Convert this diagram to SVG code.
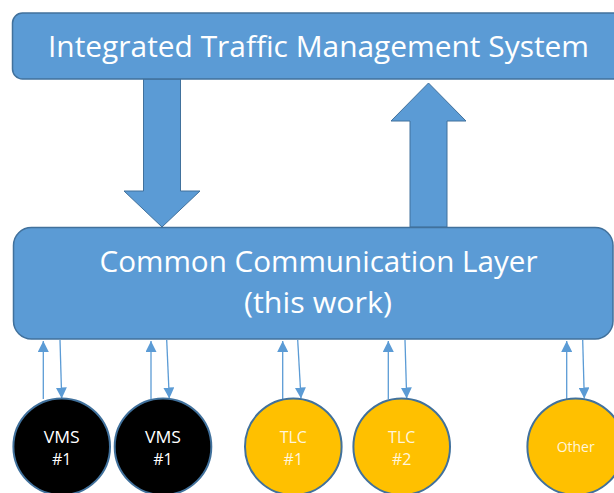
<svg xmlns="http://www.w3.org/2000/svg" width="614" height="493" viewBox="0 0 614 493">
<defs>
<style>
.box{fill:#5B9BD5;stroke:#41719C;stroke-width:1.5}
.big{fill:#5B9BD5;stroke:#41719C;stroke-width:1}
.txt{font-family:"Open Sans","Liberation Sans",sans-serif;fill:#ffffff;text-anchor:middle}
.vms{fill:#000000;stroke:#41719C;stroke-width:2}
.tlc{fill:#FFC000;stroke:#41719C;stroke-width:2}
.lbl{font-family:"Open Sans","Liberation Sans",sans-serif;fill:#ffffff;text-anchor:middle;font-size:16px}
.tl{fill:#FFF6DC}
.link{stroke:#5B9BD5;stroke-width:1.3;fill:none;marker-end:url(#ah)}
</style>
<marker id="ah" markerUnits="userSpaceOnUse" markerWidth="12" markerHeight="11" viewBox="0 0 12 11" refX="11" refY="5.5" orient="auto">
<path d="M0,0 L11,5.5 L0,11 Z" fill="#5B9BD5"/>
</marker>
</defs>
<rect width="614" height="493" fill="#ffffff"/>
<g id="bigArrows">
<polygon class="big" points="143.5,79 180.5,79 180.5,191 200,191 162,227 124,191 143.5,191"/>
<polygon class="big" points="410,227 447,227 447,121 466,121 428.5,83 391,121 410,121"/>
</g>
<g id="itms">
<rect class="box" x="12.5" y="13" width="625" height="66" rx="10" ry="10"/>
<text class="txt" x="318.5" y="57" font-size="29" textLength="541" lengthAdjust="spacingAndGlyphs">Integrated Traffic Management System</text>
</g>
<g id="ccl">
<rect class="box" x="13.5" y="227.5" width="599.5" height="111.5" rx="18" ry="18"/>
<text class="txt" x="318.5" y="272" font-size="29" textLength="438" lengthAdjust="spacingAndGlyphs">Common Communication Layer</text>
<text class="txt" x="318" y="313" font-size="29" textLength="148" lengthAdjust="spacingAndGlyphs">(this work)</text>
</g>
<g id="connectors">
<line class="link" x1="43.3" y1="399" x2="43.3" y2="341"/>
<line class="link" x1="60" y1="340" x2="61.7" y2="398.5"/>
<line class="link" x1="151" y1="399" x2="151" y2="341"/>
<line class="link" x1="166.7" y1="340" x2="169.3" y2="398.5"/>
<line class="link" x1="282.7" y1="399" x2="282.7" y2="341"/>
<line class="link" x1="297.7" y1="340" x2="301" y2="398.5"/>
<line class="link" x1="388.3" y1="399" x2="388.3" y2="341"/>
<line class="link" x1="405" y1="340" x2="406.7" y2="398.5"/>
<line class="link" x1="566.7" y1="399" x2="566.7" y2="341"/>
<line class="link" x1="582.7" y1="340" x2="584.3" y2="398.5"/>
</g>
<g id="vms1">
<circle class="vms" cx="61.7" cy="446.7" r="48.3"/>
<text class="lbl" x="61.7" y="442.5" textLength="36" lengthAdjust="spacingAndGlyphs">VMS</text>
<text class="lbl" x="61.7" y="465">#1</text>
</g>
<g id="vms2">
<circle class="vms" cx="163" cy="446.7" r="48.3"/>
<text class="lbl" x="163" y="442.5" textLength="36" lengthAdjust="spacingAndGlyphs">VMS</text>
<text class="lbl" x="163" y="465">#1</text>
</g>
<g id="tlc1">
<circle class="tlc" cx="293.3" cy="446.7" r="48.3"/>
<text class="lbl tl" x="293.3" y="442.5">TLC</text>
<text class="lbl tl" x="293.3" y="465">#1</text>
</g>
<g id="tlc2">
<circle class="tlc" cx="401.7" cy="446.7" r="48.3"/>
<text class="lbl tl" x="401.7" y="442.5">TLC</text>
<text class="lbl tl" x="401.7" y="465">#2</text>
</g>
<g id="other">
<circle class="tlc" cx="575.7" cy="446.7" r="48.3"/>
<text class="lbl tl" x="575.7" y="452.3" style="font-size:14px">Other</text>
</g>
</svg>
